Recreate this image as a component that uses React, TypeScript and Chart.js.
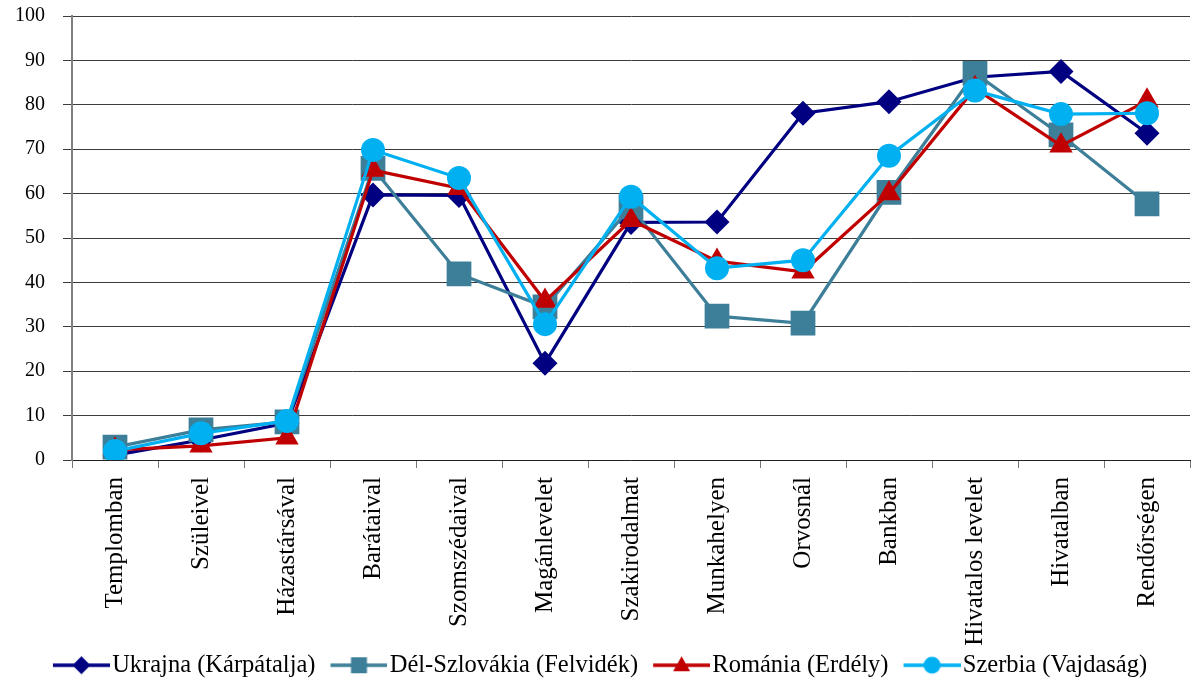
import React, { useEffect, useRef } from "react";
import { Chart, registerables } from "chart.js";

Chart.register(...registerables);

const categories = [
  "Templomban",
  "Szüleivel",
  "Házastársával",
  "Barátaival",
  "Szomszédaival",
  "Magánlevelet",
  "Szakirodalmat",
  "Munkahelyen",
  "Orvosnál",
  "Bankban",
  "Hivatalos levelet",
  "Hivatalban",
  "Rendőrségen",
];

const ukrajna = [1.1, 4.5, 8.3, 59.7, 59.6, 21.8, 53.5, 53.6, 78.1, 80.7, 86.2, 87.5, 73.6];
const delSzlovakia = [2.9, 6.8, 8.6, 65.7, 41.9, 34.5, 57.0, 32.4, 30.8, 60.3, 87.1, 73.2, 57.7];
const romania = [2.3, 3.2, 5.0, 65.3, 61.2, 35.8, 54.0, 44.8, 42.4, 60.0, 83.7, 70.8, 80.9];
const szerbia = [2.0, 6.0, 8.8, 69.8, 63.5, 30.6, 59.3, 43.2, 45.0, 68.5, 83.2, 77.9, 78.1];

const seriesNames = [
  "Ukrajna (Kárpátalja)",
  "Dél-Szlovákia (Felvidék)",
  "Románia (Erdély)",
  "Szerbia (Vajdaság)",
];
const seriesColors = ["#000080", "#3D7F99", "#C00000", "#00B0F0"];
const seriesMarkers = ["rectRot", "rect", "triangle", "circle"];
const seriesRadius = [12.5, 17.5, 13.5, 12];

const yMin = 0;
const yMax = 100;
const yStep = 10;

const LEGEND_BOX = 57;
const LEGEND_IMG_W = 77;
const LEGEND_MARGIN = 20;

function legendIcon(color: string, marker: string): HTMLCanvasElement {
  const c = document.createElement("canvas");
  c.width = LEGEND_IMG_W;
  c.height = 24;
  const ctx = c.getContext("2d")!;
  const x0 = LEGEND_MARGIN;
  const x1 = LEGEND_IMG_W;
  const cx = (x0 + x1) / 2;
  const cy = 12;
  ctx.strokeStyle = color;
  ctx.fillStyle = color;
  ctx.lineWidth = 3.5;
  ctx.beginPath();
  ctx.moveTo(x0, cy);
  ctx.lineTo(x1, cy);
  ctx.stroke();
  ctx.beginPath();
  if (marker === "rectRot") {
    ctx.moveTo(cx - 9, cy);
    ctx.lineTo(cx, cy - 9);
    ctx.lineTo(cx + 9, cy);
    ctx.lineTo(cx, cy + 9);
    ctx.closePath();
  } else if (marker === "rect") {
    ctx.rect(cx - 8, cy - 8, 16, 16);
  } else if (marker === "triangle") {
    ctx.moveTo(cx, cy - 9);
    ctx.lineTo(cx + 8.5, cy + 6);
    ctx.lineTo(cx - 8.5, cy + 6);
    ctx.closePath();
  } else {
    ctx.arc(cx, cy, 8.5, 0, Math.PI * 2);
  }
  ctx.fill();
  return c;
}

export default function App() {
  const canvasRef = useRef<HTMLCanvasElement | null>(null);

  useEffect(() => {
    document.body.style.margin = "0";
    const canvas = canvasRef.current;
    if (!canvas) return;
    const seriesData = [ukrajna, delSzlovakia, romania, szerbia];
    const icons = seriesColors.map((c, i) => legendIcon(c, seriesMarkers[i]));

    const chart = new Chart(canvas, {
      type: "line",
      data: {
        labels: categories,
        datasets: seriesData.map((d, i) => ({
          label: seriesNames[i],
          data: d,
          borderColor: seriesColors[i],
          backgroundColor: seriesColors[i],
          borderWidth: 3.2,
          pointStyle: seriesMarkers[i] as any,
          pointRadius: seriesRadius[i],
          pointBorderWidth: 0,
          pointBackgroundColor: seriesColors[i],
          pointBorderColor: seriesColors[i],
          tension: 0,
          order: 3 - i,
        })),
      },
      options: {
        animation: false,
        responsive: false,
        maintainAspectRatio: false,
        layout: { autoPadding: false, padding: { top: 16, right: 2, left: 0, bottom: 0 } },
        plugins: {
          tooltip: { enabled: false },
          legend: {
            position: "bottom",
            maxHeight: 34,
            labels: {
              usePointStyle: true,
              pointStyleWidth: LEGEND_BOX,
              boxHeight: 20,
              padding: 5,
              color: "#000",
              font: { family: "'Liberation Serif', serif", size: 24.5 },
              generateLabels: (ch: any) =>
                ch.data.datasets.map((ds: any, i: number) => ({
                  text: ds.label,
                  fillStyle: seriesColors[i],
                  strokeStyle: seriesColors[i],
                  lineWidth: 0,
                  pointStyle: icons[i],
                  hidden: false,
                  datasetIndex: i,
                  fontColor: "#000",
                })),
            },
          },
        },
        scales: {
          x: {
            offset: true,
            afterFit: (s: any) => {
              s.height = 188;
              s.paddingLeft = 0;
              s.paddingRight = 0;
            },
            grid: {
              display: true,
              offset: true,
              drawOnChartArea: false,
              drawTicks: true,
              tickLength: 8,
              color: "#777",
            },
            border: { display: true, color: "#222", width: 1 },
            ticks: {
              autoSkip: false,
              minRotation: 90,
              maxRotation: 90,
              padding: 9,
              color: "#000",
              font: { family: "'Liberation Serif', serif", size: 25 },
            },
          },
          y: {
            min: yMin,
            max: yMax,
            afterFit: (s: any) => {
              s.width = 72;
              s.paddingTop = 0;
              s.paddingBottom = 0;
            },
            grid: {
              color: "#3c3c3c",
              lineWidth: 1,
              tickLength: 9,
            },
            border: { display: true, color: "#808080", width: 2 },
            ticks: {
              stepSize: yStep,
              padding: 18,
              color: "#000",
              font: { family: "'Liberation Serif', serif", size: 20 },
            },
          },
        },
      },
    });
    return () => chart.destroy();
  }, []);

  return (
    <div style={{ width: 1192, height: 682 }}>
      <canvas ref={canvasRef} width={1192} height={682} style={{ display: "block" }} />
    </div>
  );
}
